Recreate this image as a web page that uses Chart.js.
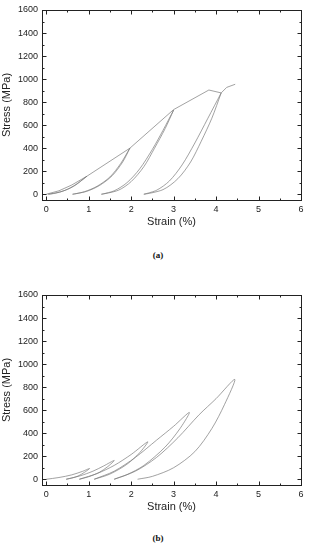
<!DOCTYPE html>
<html>
<head>
<meta charset="utf-8">
<script src="https://cdn.jsdelivr.net/npm/chart.js@4.4.0/dist/chart.umd.min.js"></script>
<style>
  html, body { margin: 0; padding: 0; background: #fff; }
  body { width: 319px; height: 550px; position: relative; overflow: hidden; }
  .box { position: absolute; left: 0; width: 319px; height: 232px; }
  .cap { position: absolute; left: 0; width: 316px; text-align: center;
         font: bold 9px "Liberation Serif", "DejaVu Serif", serif; color: #111; }
</style>
</head>
<body>
<div class="box" style="top:0"><canvas id="chartA" width="319" height="232"></canvas></div>
<div class="cap" style="top:250px">(a)</div>
<div class="box" style="top:285px"><canvas id="chartB" width="319" height="232"></canvas></div>
<div class="cap" style="top:533px">(b)</div>
<script>
// tick labels
var strainTicks = [0, 1, 2, 3, 4, 5, 6];
var stressTicks = [0, 200, 400, 600, 800, 1000, 1200, 1400, 1600];

// (a) envelope and unload/reload loops, [strain %, stress MPa]
var aEnvelope = [[0, 0], [0.3, 30], [0.6, 80], [0.96, 157], [1.97, 400], [3.0, 735],
                 [3.83, 905], [4.12, 880], [4.25, 928], [4.45, 955]];
var aLoop1 = [[0.96, 157], [0.7, 85], [0.45, 35], [0.2, 8], [0.05, 0], [0.35, 22], [0.65, 70], [0.96, 157]];
var aLoop2 = [[1.97, 400], [1.8, 280], [1.55, 160], [1.25, 75], [0.95, 25], [0.62, 0],
              [0.9, 22], [1.2, 70], [1.5, 150], [1.75, 265], [1.97, 400]];
var aLoop3 = [[3.0, 731], [2.8, 570], [2.55, 400], [2.3, 240], [2.0, 110], [1.7, 35], [1.3, 0],
              [1.6, 30], [1.9, 100], [2.2, 220], [2.5, 390], [2.75, 555], [3.0, 731]];
var aLoop4 = [[4.12, 880], [3.9, 660], [3.65, 460], [3.4, 280], [3.1, 135], [2.75, 40], [2.3, 0],
              [2.6, 35], [2.9, 115], [3.2, 255], [3.5, 445], [3.8, 655], [4.12, 880]];

// (b) cycles with increasing peak
var bLoop1 = [[0, 0], [0.3, 15], [0.6, 38], [0.85, 68], [1.02, 93], [0.9, 60], [0.75, 28], [0.6, 10], [0.47, 0]];
var bLoop2 = [[0.47, 0], [0.8, 30], [1.1, 70], [1.35, 115], [1.6, 163], [1.45, 110], [1.25, 60], [1.0, 22], [0.78, 0]];
var bLoop3 = [[0.78, 0], [1.2, 50], [1.6, 120], [2.0, 215], [2.39, 325], [2.2, 230], [1.9, 130], [1.5, 45], [1.13, 0]];
var bLoop4 = [[1.13, 0], [1.6, 70], [2.1, 190], [2.6, 340], [3.0, 460], [3.37, 580],
              [3.15, 440], [2.8, 280], [2.3, 120], [1.9, 40], [1.6, 0]];
var bLoop5 = [[1.6, 0], [2.1, 70], [2.6, 190], [3.1, 360], [3.6, 560], [4.0, 700], [4.44, 867],
              [4.2, 650], [3.9, 440], [3.5, 240], [3.0, 100], [2.5, 25], [2.15, 0]];

function toPts(arr) {
  return arr.map(function(p) { return {x: p[0], y: p[1]}; });
}

function curve(arr, tension) {
  return {
    data: toPts(arr),
    showLine: true,
    borderColor: '#7a7a7a',
    borderWidth: 0.7,
    pointRadius: 0,
    tension: tension,
  };
}

// inward major/minor ticks on all four sides
function frameTicks(name) {
  return {
    id: 'frame' + name,
    afterDraw: function(chart) {
      var ctx = chart.ctx, a = chart.chartArea, x = chart.scales.x, y = chart.scales.y;
      var dpr = chart.currentDevicePixelRatio || 1;
      var L = Math.round(a.left) + 0.5, R = Math.round(a.right) + 0.5;
      var T = Math.round(a.top) + 0.5, B = Math.round(a.bottom) + 0.5;
      ctx.save();
      ctx.setTransform(dpr, 0, 0, dpr, 0, 0);
      ctx.globalAlpha = 1;
      ctx.globalCompositeOperation = 'source-over';
      ctx.setLineDash([]);
      ctx.strokeStyle = '#222';
      ctx.lineWidth = 1;
      ctx.beginPath();
      strainTicks.forEach(function(t) {
        [0, 0.5].forEach(function(off) {
          var v = t + off;
          if (v > strainTicks[strainTicks.length - 1]) return;
          var len = off ? 2 : 4;
          var px = Math.round(x.getPixelForValue(v)) + 0.5;
          ctx.moveTo(px, B); ctx.lineTo(px, B - len);
          ctx.moveTo(px, T); ctx.lineTo(px, T + len);
        });
      });
      stressTicks.forEach(function(t) {
        [0, 100].forEach(function(off) {
          var v = t + off;
          if (v > stressTicks[stressTicks.length - 1]) return;
          var len = off ? 2 : 4;
          var py = Math.round(y.getPixelForValue(v)) + 0.5;
          ctx.moveTo(L, py); ctx.lineTo(L + len, py);
          ctx.moveTo(R, py); ctx.lineTo(R - len, py);
        });
      });
      ctx.stroke();
      ctx.restore();
    }
  };
}

function makeOptions() {
  var tickFont = {family: '"Liberation Sans", Arial, sans-serif', size: 9};
  var titleFont = {family: '"Liberation Sans", Arial, sans-serif', size: 11};
  var frameBorder = {display: true, color: '#222', width: 1};
  return {
    responsive: false,
    animation: false,
    layout: {padding: {top: 10, right: 18, left: 0, bottom: 0}},
    plugins: {legend: {display: false}, tooltip: {enabled: false}},
    scales: {
      x: {
        type: 'linear',
        min: -0.1, max: 6,
        afterBuildTicks: function(s) { s.ticks = strainTicks.map(function(v) { return {value: v}; }); },
        afterFit: function(s) { s.height = 32; },
        grid: {drawOnChartArea: false, drawTicks: false},
        border: frameBorder,
        ticks: {font: tickFont, color: '#222', padding: 4, maxRotation: 0,
                callback: function(v) { return String(v); }},
        title: {display: true, text: 'Strain (%)', font: titleFont, color: '#222', padding: {top: 0, bottom: 3}},
      },
      y: {
        type: 'linear',
        min: -50, max: 1600,
        afterBuildTicks: function(s) { s.ticks = stressTicks.map(function(v) { return {value: v}; }); },
        afterFit: function(s) { s.width = 42; },
        grid: {drawOnChartArea: false, drawTicks: false},
        border: frameBorder,
        ticks: {font: tickFont, color: '#222', padding: 4,
                callback: function(v) { return String(v); }},
        title: {display: true, text: 'Stress (MPa)', font: titleFont, color: '#222', padding: {top: 0, bottom: 4}},
      },
      // top and right edges of the box
      xTop: {
        type: 'linear', position: 'top', min: -0.1, max: 6,
        grid: {drawOnChartArea: false, drawTicks: false},
        border: frameBorder,
        ticks: {display: false},
      },
      yRight: {
        type: 'linear', position: 'right', min: -50, max: 1600,
        grid: {drawOnChartArea: false, drawTicks: false},
        border: frameBorder,
        ticks: {display: false},
      },
    },
  };
}

new Chart(document.getElementById('chartA').getContext('2d'), {
  type: 'scatter',
  data: {
    datasets: [
      curve(aEnvelope, 0),
      curve(aLoop1, 0.3),
      curve(aLoop2, 0.3),
      curve(aLoop3, 0.3),
      curve(aLoop4, 0.3),
    ]
  },
  options: makeOptions(),
  plugins: [frameTicks('A')],
});

new Chart(document.getElementById('chartB').getContext('2d'), {
  type: 'scatter',
  data: {
    datasets: [
      curve(bLoop1, 0.3),
      curve(bLoop2, 0.3),
      curve(bLoop3, 0.3),
      curve(bLoop4, 0.3),
      curve(bLoop5, 0.3),
    ]
  },
  options: makeOptions(),
  plugins: [frameTicks('B')],
});
</script>
</body>
</html>
